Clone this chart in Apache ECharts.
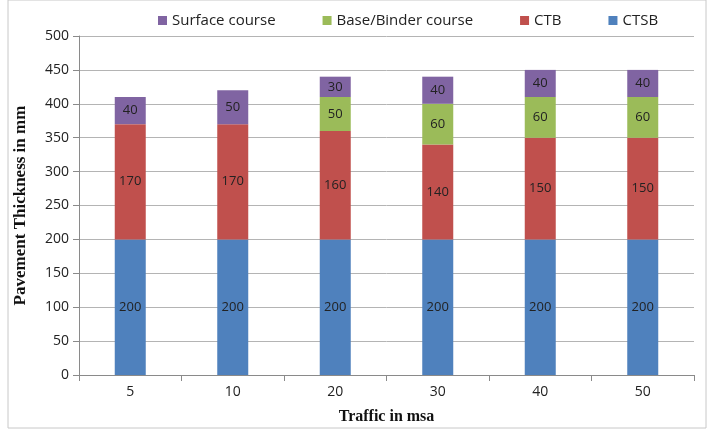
<!DOCTYPE html>
<html>
<head>
<meta charset="utf-8">
<script src="https://cdn.jsdelivr.net/npm/echarts@6/dist/echarts.min.js"></script>
<style>
  html, body { margin: 0; padding: 0; background: #fff; }
  #main { width: 708px; height: 430px; }
</style>
</head>
<body>
<div id="main"></div>
<script>
// traffic categories (msa)
var categories = ['5', '10', '20', '30', '40', '50'];

// layer thicknesses in mm
var ctsb = [200, 200, 200, 200, 200, 200];
var ctb = [170, 170, 160, 140, 150, 150];
var baseBinder = [0, 0, 50, 60, 60, 60];
var surface = [40, 50, 30, 40, 40, 40];

var yTicks = [0, 50, 100, 150, 200, 250, 300, 350, 400, 450, 500];

var labelFont = '"Open Sans", sans-serif';
var titleFont = '"Liberation Serif", "DejaVu Serif", serif';

function layer(name, data, color) {
    return {
        name: name,
        type: 'bar',
        stack: 'total',
        data: data,
        barWidth: 31,
        itemStyle: { color: color },
        label: {
            show: true,
            position: 'inside',
            color: '#222',
            fontFamily: labelFont,
            fontSize: 13,
            formatter: function (p) { return p.value ? p.value : ''; }
        }
    };
}

var myChart = echarts.init(document.getElementById('main'));

myChart.setOption({
    animation: false,
    backgroundColor: '#fff',
    graphic: [{
        type: 'rect',
        shape: { x: 8, y: 0, width: 698, height: 428 },
        style: { fill: 'none', stroke: '#c8c8c8', lineWidth: 1 }
    }],
    legend: {
        top: 8,
        left: 153,
        itemWidth: 9,
        itemHeight: 9,
        itemGap: 47,
        icon: 'rect',
        textStyle: { fontFamily: labelFont, fontSize: 15, color: '#222' },
        data: ['Surface course', 'Base/Binder course', 'CTB', 'CTSB']
    },
    grid: { left: 79, right: 14, top: 36, bottom: 53 },
    xAxis: {
        type: 'category',
        data: categories,
        name: 'Traffic in msa',
        nameLocation: 'middle',
        nameGap: 34,
        nameTextStyle: { fontFamily: titleFont, fontWeight: 'bold', fontSize: 16, color: '#111' },
        axisLine: { lineStyle: { color: '#8a8a8a' } },
        axisTick: { show: true, alignWithLabel: false, length: 6, lineStyle: { color: '#8a8a8a' } },
        axisLabel: { fontFamily: labelFont, fontSize: 14, color: '#222', margin: 10 }
    },
    yAxis: {
        type: 'value',
        min: yTicks[0],
        max: yTicks[yTicks.length - 1],
        interval: 50,
        name: 'Pavement Thickness in mm',
        nameLocation: 'middle',
        nameGap: 50,
        nameTextStyle: { fontFamily: titleFont, fontWeight: 'bold', fontSize: 17, color: '#111' },
        axisLine: { show: true, lineStyle: { color: '#8a8a8a' } },
        axisTick: { show: true, length: 6, lineStyle: { color: '#8a8a8a' } },
        axisLabel: { fontFamily: labelFont, fontSize: 14, color: '#222', margin: 10 },
        splitLine: { lineStyle: { color: '#b4b4b4' } }
    },
    series: [
        layer('CTSB', ctsb, '#4f81bd'),
        layer('CTB', ctb, '#c0504d'),
        layer('Base/Binder course', baseBinder, '#9bbb59'),
        layer('Surface course', surface, '#8064a2')
    ]
});
</script>
</body>
</html>
